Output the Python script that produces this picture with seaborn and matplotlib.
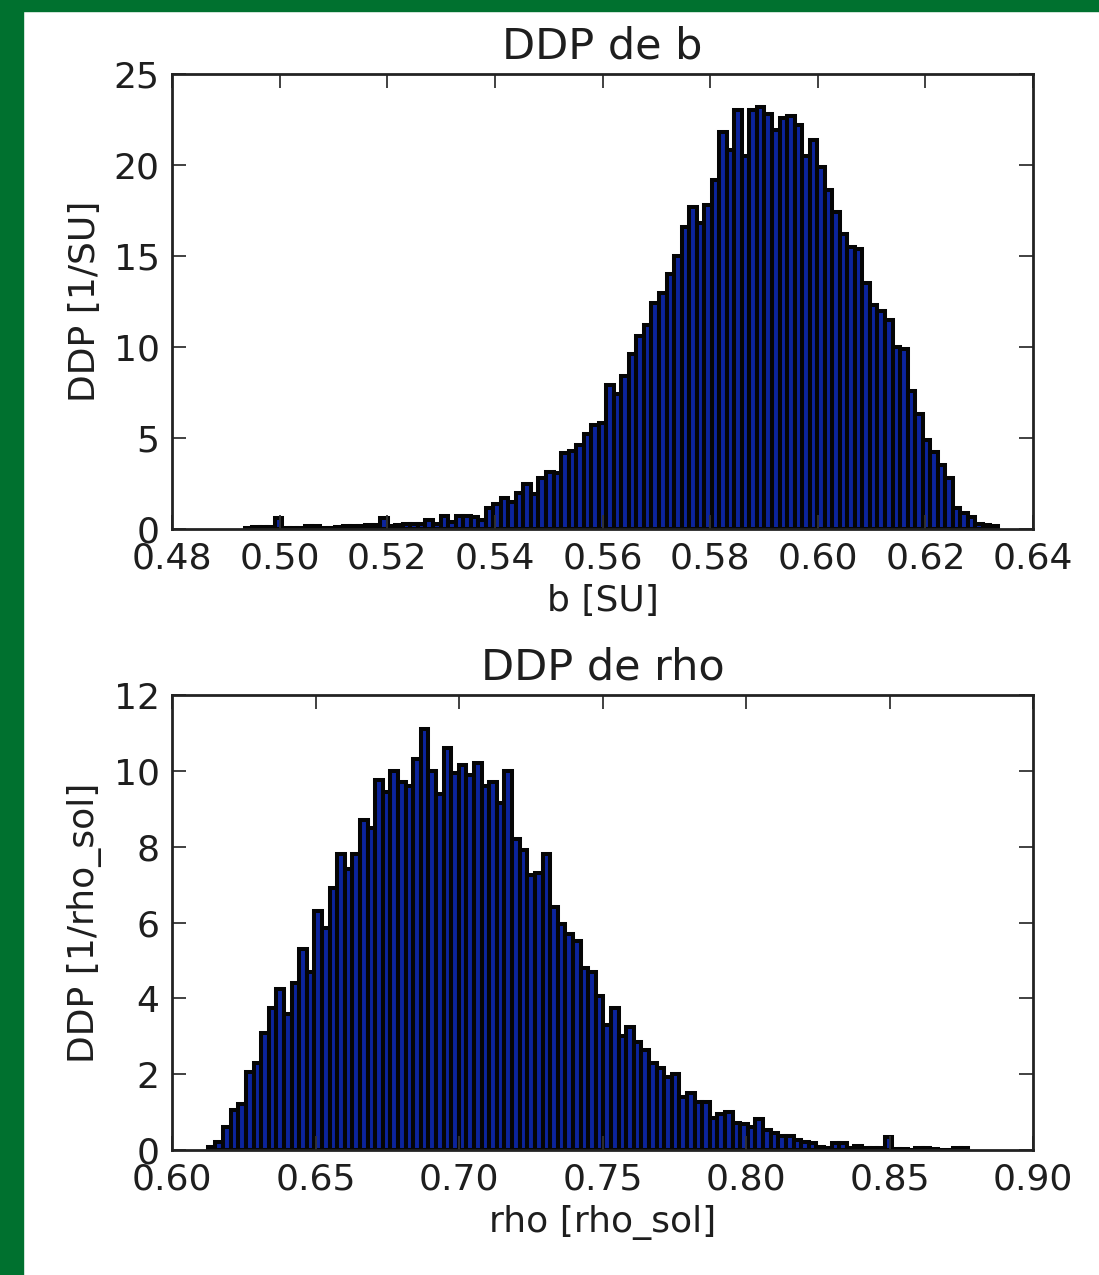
import numpy as np
import pandas as pd
import matplotlib
matplotlib.use("Agg")
import matplotlib.pyplot as plt
from matplotlib.patches import Rectangle
import seaborn as sns

# ---------------- data ----------------
b_range = (0.4935, 0.6335)
b_density = [
    0.05, 0.10, 0.10, 0.10, 0.60, 0.05, 0.05, 0.05, 0.15, 0.15,
    0.05, 0.05, 0.10, 0.15, 0.15, 0.15, 0.20, 0.20, 0.60, 0.15,
    0.20, 0.25, 0.30, 0.30, 0.50, 0.30, 0.70, 0.40, 0.70, 0.70,
    0.65, 0.50, 1.15, 1.40, 1.70, 1.50, 2.00, 2.45, 1.90, 2.80,
    3.15, 3.05, 4.15, 4.30, 4.60, 5.20, 5.70, 5.80, 7.90, 7.40,
    8.40, 9.60, 10.6, 11.2, 12.4, 12.95, 14.0, 15.0, 16.6, 17.7,
    16.8, 17.8, 19.2, 21.8, 20.8, 23.0, 20.5, 23.0, 23.2, 22.8,
    21.9, 22.6, 22.7, 22.2, 20.5, 21.4, 19.9, 18.6, 17.4, 16.2,
    15.5, 15.4, 13.5, 12.3, 12.0, 11.5, 10.0, 9.9, 7.6, 6.3,
    4.9, 4.25, 3.5, 2.8, 1.15, 0.86, 0.68, 0.30, 0.20, 0.15,
]

rho_range = (0.6125, 0.8775)
rho_density = [
    0.09, 0.22, 0.60, 1.05, 1.20, 2.07, 2.30, 3.08, 3.75, 4.25,
    3.60, 4.40, 5.30, 4.70, 6.30, 5.85, 6.90, 7.80, 7.40, 7.80,
    8.70, 8.50, 9.75, 9.45, 10.0, 9.70, 9.60, 10.3, 11.1, 10.0,
    9.40, 10.6, 9.95, 10.15, 9.90, 10.2, 9.60, 9.70, 9.15, 10.0,
    8.20, 7.90, 7.25, 7.30, 7.80, 6.40, 5.95, 5.70, 5.50, 4.80,
    4.70, 4.05, 3.30, 3.75, 3.00, 3.25, 2.85, 2.65, 2.30, 2.17,
    1.93, 2.00, 1.40, 1.50, 1.26, 1.26, 0.84, 0.94, 1.00, 0.70,
    0.68, 0.60, 0.82, 0.53, 0.44, 0.38, 0.38, 0.26, 0.22, 0.18,
    0.09, 0.04, 0.18, 0.18, 0.04, 0.11, 0.04, 0.04, 0.04, 0.35,
    0.03, 0.03, 0.00, 0.05, 0.05, 0.03, 0.00, 0.01, 0.04, 0.04,
]

b_xticks = [0.48, 0.50, 0.52, 0.54, 0.56, 0.58, 0.60, 0.62, 0.64]
b_xticklabels = ["0.48", "0.50", "0.52", "0.54", "0.56", "0.58", "0.60", "0.62", "0.64"]
b_yticks = [0, 5, 10, 15, 20, 25]
rho_xticks = [0.60, 0.65, 0.70, 0.75, 0.80, 0.85, 0.90]
rho_xticklabels = ["0.60", "0.65", "0.70", "0.75", "0.80", "0.85", "0.90"]
rho_yticks = [0, 2, 4, 6, 8, 10, 12]

titles = ["DDP de b", "DDP de rho"]
xlabels = ["b [SU]", "rho [rho_sol]"]
ylabels = ["DDP [1/SU]", "DDP [1/rho_sol]"]

# ---------------- style ----------------
plt.rcParams["font.family"] = ["DejaVu Sans"]
plt.rcParams["font.size"] = 26
BAR = "#0c249c"
TXT = "#1e1e1e"
GREEN = "#00712f"

fig = plt.figure(figsize=(10.99, 12.75), dpi=100)
fig.patch.set_facecolor("white")
fig.add_artist(Rectangle((0, 0), 23 / 1099, 1, color=GREEN, zorder=0))
fig.add_artist(Rectangle((0, 1 - 10.5 / 1275), 1, 10.5 / 1275, color=GREEN, zorder=0))

ax_top = fig.add_axes([0.15651, 0.58510, 0.78344, 0.35686])
ax_bot = fig.add_axes([0.15651, 0.09804, 0.78344, 0.35686])


def draw(ax, values, rng, title, xlabel, ylabel, xticks, xticklabels, yticks):
    n = len(values)
    width = (rng[1] - rng[0]) / n
    centers = rng[0] + width * (np.arange(n) + 0.5)
    df = pd.DataFrame({"x": centers, "w": values})
    sns.histplot(data=df, x="x", weights="w", bins=n, binrange=rng,
                 stat="count", ax=ax, color=BAR, edgecolor="#050505",
                 linewidth=2.9, alpha=1.0)
    ax.set_xlim(xticks[0], xticks[-1])
    ax.set_ylim(yticks[0], yticks[-1])
    ax.set_xticks(xticks)
    ax.set_xticklabels(xticklabels)
    ax.set_yticks(yticks)
    ax.set_yticklabels([str(v) for v in yticks])
    ax.tick_params(direction="in", length=10, width=1.3, top=True, right=True,
                   color="#333333", labelcolor=TXT, labelsize=26)
    ax.tick_params(axis="x", pad=9)
    ax.tick_params(axis="y", pad=9)
    for s in ax.spines.values():
        s.set_linewidth(2.0)
        s.set_color("#222222")
    ax.set_title(title, fontsize=31, color=TXT, pad=11)
    ax.set_xlabel(xlabel, fontsize=26, color=TXT, labelpad=6)
    ax.set_ylabel(ylabel, fontsize=26, color=TXT, labelpad=8)
    ax.set_facecolor("white")


draw(ax_top, b_density, b_range, titles[0], xlabels[0], ylabels[0],
     b_xticks, b_xticklabels, b_yticks)
draw(ax_bot, rho_density, rho_range, titles[1], xlabels[1], ylabels[1],
     rho_xticks, rho_xticklabels, rho_yticks)

fig.savefig("out.png", dpi=100)
